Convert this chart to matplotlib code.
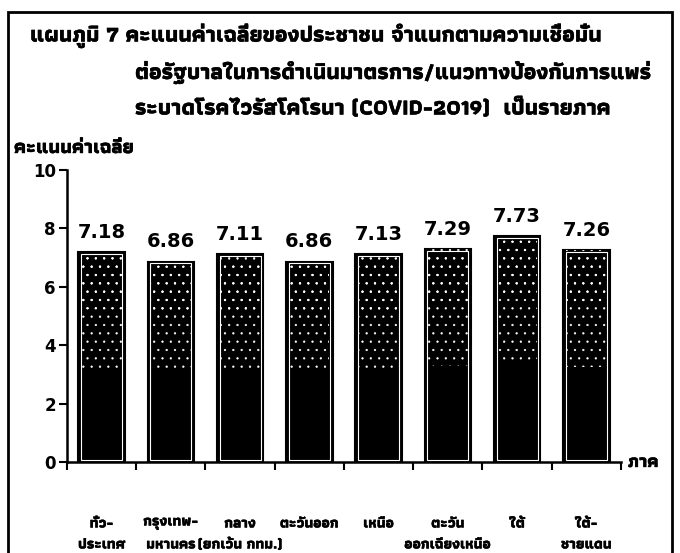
import matplotlib
matplotlib.use('Agg')
import matplotlib.pyplot as plt
from matplotlib import font_manager
from matplotlib.ft2font import FT2Font
from matplotlib.patches import Rectangle
import matplotlib.patheffects as pe

# find an installed font that has Thai glyphs, prefer one with a bold face
thai_fonts = []
for f in font_manager.fontManager.ttflist:
    try:
        if 0x0E01 in FT2Font(f.fname).get_charmap():
            wt = f.weight
            if isinstance(wt, str):
                wt = 700 if 'bold' in wt.lower() else 400
            thai_fonts.append((f.name, wt))
    except Exception:
        pass
bold_names = sorted(set(n for n, w in thai_fonts if w >= 600))
all_names = sorted(set(n for n, w in thai_fonts))
has_bold = len(bold_names) > 0
thai = (bold_names or all_names)[:1]
plt.rcParams['font.family'] = thai + ['DejaVu Sans']

# extra thickening when the Thai font has no bold face
stroke = [pe.withStroke(linewidth=0.3 if has_bold else 1.1, foreground='black')]

# data
regions = ['ทั่ว-\nประเทศ', 'กรุงเทพ-\nมหานคร', 'กลาง\n(ยกเว้น กทม.)', 'ตะวันออก',
           'เหนือ', 'ตะวัน\nออกเฉียงเหนือ', 'ใต้', 'ใต้-\nชายแดน']
scores = [7.18, 6.86, 7.11, 6.86, 7.13, 7.29, 7.73, 7.26]

fig = plt.figure(figsize=(6.8, 5.53), dpi=100)
ax = fig.add_axes([0.0985, 0.1646, 0.8147, 0.528])

x = list(range(len(scores)))
w = 0.67
ax.bar(x, scores, width=w, color='black', edgecolor='black', linewidth=1.5, zorder=2)
# speckled upper part
plt.rcParams['hatch.linewidth'] = 0.4
ax.bar(x, [s * 0.55 for s in scores], bottom=[s * 0.45 for s in scores], width=w * 0.86,
       facecolor='none', edgecolor='white', hatch='..', linewidth=0, zorder=3)
ax.bar(x, [s * 0.25 for s in scores], bottom=[s * 0.73 for s in scores], width=w * 0.86,
       facecolor='none', edgecolor='white', hatch='..', linewidth=0, zorder=3)
# thin white inner outline
ax.bar(x, [s - 0.12 for s in scores], bottom=0.06, width=w * 0.88,
       facecolor='none', edgecolor='white', linewidth=0.8, zorder=4)

for xi, s in zip(x, scores):
    ax.text(xi, s + 0.35, f'{s:.2f}', ha='center', va='bottom', fontsize=14,
            fontweight='bold', family=['DejaVu Sans'])

ax.set_xlim(-0.5, 7.5)
ax.set_ylim(0, 10)
ax.set_yticks([0, 2, 4, 6, 8, 10])
ax.set_yticklabels(['0', '2', '4', '6', '8', '10'], fontsize=12, fontweight='bold',
                   family=['DejaVu Sans'])
ax.set_xticks([i - 0.5 for i in range(len(scores) + 1)])
ax.set_xticklabels([])
ax.tick_params(axis='y', direction='out', length=6, width=1.5, pad=2)
ax.tick_params(axis='x', direction='out', length=6, width=1.5)
for sp in ['top', 'right']:
    ax.spines[sp].set_visible(False)
ax.spines['left'].set_linewidth(1.8)
ax.spines['bottom'].set_linewidth(1.8)

for xi, lab in zip(x, regions):
    ax.text(xi, -1.9, lab, ha='center', va='top', fontsize=10.5, fontweight='bold',
            linespacing=1.8, path_effects=stroke)

ax.text(7.6, 0, 'ภาค', ha='left', va='center', fontsize=13, fontweight='bold',
        path_effects=stroke)
fig.text(14 / 680, 1 - 148 / 553, 'คะแนนค่าเฉลี่ย', ha='left', va='center',
         fontsize=14, fontweight='bold', path_effects=stroke)

# title
title_lines = ['แผนภูมิ 7 คะแนนค่าเฉลี่ยของประชาชน จำแนกตามความเชื่อมั่น',
               'ต่อรัฐบาลในการดำเนินมาตรการ/แนวทางป้องกันการแพร่',
               'ระบาดโรคไวรัสโคโรนา (COVID-2019)  เป็นรายภาค']
title_x = [30, 135, 135]
title_y = [36, 72, 108]
for t, tx, ty in zip(title_lines, title_x, title_y):
    fig.text(tx / 680, 1 - ty / 553, t, ha='left', va='center', fontsize=16,
             fontweight='bold', path_effects=stroke)

# outer frame
fig.patches.append(Rectangle((8 / 680, -0.05), 664 / 680, 1.05 - 12 / 553,
                             transform=fig.transFigure, fill=False,
                             edgecolor='black', linewidth=2))

fig.savefig('out.png', dpi=100)
